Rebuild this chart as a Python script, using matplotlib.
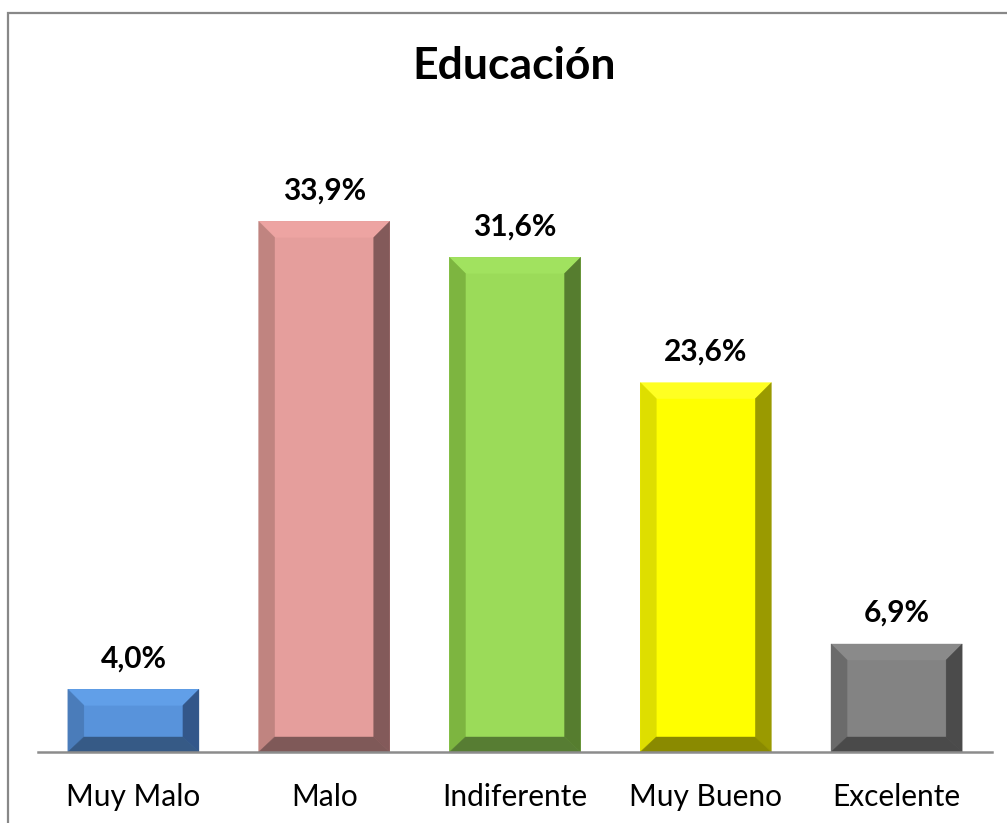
import matplotlib
matplotlib.use("Agg")
import matplotlib.pyplot as plt
from matplotlib.patches import Polygon, Rectangle

categories = ["Muy Malo", "Malo", "Indiferente", "Muy Bueno", "Excelente"]
values = [4.0, 33.9, 31.6, 23.6, 6.9]
labels = ["4,0%", "33,9%", "31,6%", "23,6%", "6,9%"]
title = "Educación"

# (center, top, left, right, bottom) face colours
palettes = [
    ("#5893DB", "#619FE8", "#4A7CBA", "#33578A", "#365A86"),
    ("#E59E9C", "#EDA4A2", "#C08480", "#835A5A", "#7F5958"),
    ("#9BDB59", "#A1E25F", "#7DB540", "#567D2F", "#577D33"),
    ("#FFFF00", "#FFFF22", "#DEDE00", "#9A9A00", "#8A8A00"),
    ("#838383", "#8A8A8A", "#6B6B6B", "#4B4B4B", "#4A4A4A"),
]

plt.rcParams['font.family'] = ['Lato', 'DejaVu Sans']

W, H = 1007, 823
fig = plt.figure(figsize=(W / 100, H / 100), dpi=100)
ax = fig.add_axes([38 / W, 1 - 752 / H, (992 - 38) / W, (752 - 126) / H])
ax.set_xlim(-0.5, len(categories) - 0.5)
ax.set_ylim(0, 40)

bar_w = 0.687
x = list(range(len(categories)))
bars = ax.bar(x, values, width=bar_w, color=[p[0] for p in palettes], zorder=2)

# bevel size in pixels converted to data units
ax_w_px = (992 - 38)
ax_h_px = (752 - 126)
px_x = (ax.get_xlim()[1] - ax.get_xlim()[0]) / ax_w_px
px_y = (ax.get_ylim()[1] - ax.get_ylim()[0]) / ax_h_px
bx = 16 * px_x
bt = 16 * px_y
bb = 15 * px_y

for rect, pal in zip(bars, palettes):
    x0 = rect.get_x()
    x1 = x0 + rect.get_width()
    y0 = rect.get_y()
    y1 = y0 + rect.get_height()
    ix0, ix1 = x0 + bx, x1 - bx
    iy0, iy1 = y0 + bb, y1 - bt
    center, top, left, right, bottom = pal
    faces = [
        ([(x0, y1), (x1, y1), (ix1, iy1), (ix0, iy1)], top),
        ([(x0, y0), (x0, y1), (ix0, iy1), (ix0, iy0)], left),
        ([(x1, y0), (x1, y1), (ix1, iy1), (ix1, iy0)], right),
        ([(x0, y0), (x1, y0), (ix1, iy0), (ix0, iy0)], bottom),
    ]
    for verts, c in faces:
        ax.add_patch(Polygon(verts, closed=True, facecolor=c, edgecolor=c,
                             linewidth=0.3, zorder=3))

for xi, v, lab in zip(x, values, labels):
    ax.annotate(lab, (xi, v), xytext=(0, 17), textcoords="offset pixels",
                ha="center", va="bottom", fontsize=21.5, fontweight="bold",
                color="black")

for s in ["top", "left", "right"]:
    ax.spines[s].set_visible(False)
ax.spines["bottom"].set_color("#8C8C8C")
ax.spines["bottom"].set_linewidth(1.8)
ax.spines["bottom"].set_zorder(4)
ax.set_yticks([])
ax.set_xticks(x)
ax.set_xticklabels(categories, fontsize=21.5)
ax.tick_params(axis="x", length=0, pad=22)

fig.text(514 / W, 1 - 66 / H, title, ha="center", va="center",
         fontsize=32, fontweight="bold")

fig.patches.append(Rectangle((8 / W, -0.05), 1.1, 1 - 13 / H + 0.05,
                             transform=fig.transFigure, fill=False,
                             edgecolor="#888888", linewidth=1.6,
                             clip_on=False))

fig.savefig("out.png", dpi=100)
